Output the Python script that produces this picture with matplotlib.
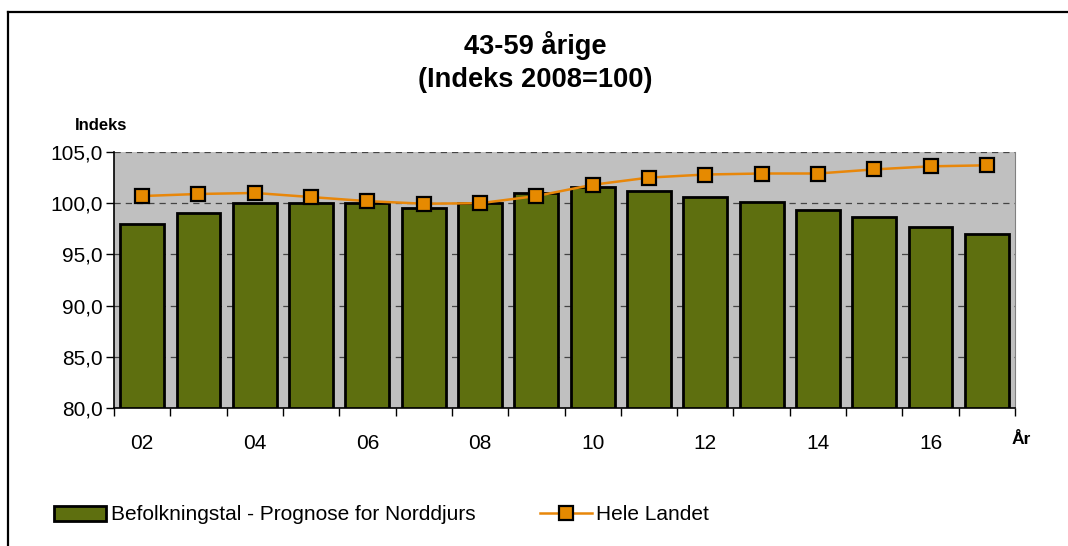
import matplotlib
matplotlib.use("Agg")
import matplotlib.pyplot as plt
from matplotlib.lines import Line2D
from matplotlib.ticker import FixedLocator, FuncFormatter
import numpy as np

plt.rcParams["font.family"] = ["Liberation Sans", "DejaVu Sans"]

years = ["02", "03", "04", "05", "06", "07", "08", "09",
         "10", "11", "12", "13", "14", "15", "16", "17"]
norddjurs = [98.0, 99.0, 100.0, 100.0, 100.0, 99.5, 100.0, 101.0,
             101.6, 101.2, 100.6, 100.1, 99.3, 98.7, 97.7, 97.0]
hele_landet = [100.7, 100.9, 101.0, 100.6, 100.2, 99.95, 100.0, 100.7,
               101.8, 102.5, 102.8, 102.9, 102.9, 103.3, 103.6, 103.7]

W, H = 1068, 546
fig = plt.figure(figsize=(W / 100, H / 100), dpi=100)
ax = fig.add_axes([114 / W, 1 - 408 / H, (1015 - 114) / W, (408 - 152) / H])
ax.set_facecolor("#C0C0C0")

x = np.arange(len(years))
bars = ax.bar(x, [v - 80 for v in norddjurs], bottom=80, width=0.78, color="#5E6F0F",
              edgecolor="black", linewidth=2, zorder=3,
              label="Befolkningstal - Prognose for Norddjurs")
line, = ax.plot(x, hele_landet, color="#E8870A", linewidth=1.8, marker="s",
                markersize=10, markerfacecolor="#E68A00", markeredgecolor="black",
                markeredgewidth=1.6, zorder=4, label="Hele Landet")

ax.set_xlim(-0.5, len(years) - 0.5)
ax.set_ylim(80, 105)
ax.set_yticks(np.arange(80, 105.1, 5))
ax.yaxis.set_major_formatter(FuncFormatter(lambda v, p: f"{v:.1f}".replace(".", ",")))
ax.grid(axis="y", color="#444444", linestyle=(0, (5, 4)), linewidth=0.9, zorder=1)

# category labels every other year, ticks on category boundaries
ax.xaxis.set_major_locator(FixedLocator(np.arange(-0.5, len(years), 1)))
ax.set_xticklabels([])
ax.xaxis.set_minor_locator(FixedLocator(x[::2]))
ax.set_xticklabels(years[::2], minor=True)
ax.tick_params(axis="x", which="minor", length=0, pad=19, labelsize=15)
ax.tick_params(axis="x", which="major", direction="out", length=6, width=1)
ax.tick_params(axis="y", direction="out", length=6, width=1, labelsize=15, pad=2)

for s in ["left", "bottom"]:
    ax.spines[s].set_color("black")
    ax.spines[s].set_linewidth(1.2)
ax.spines["top"].set_visible(False)
ax.spines["right"].set_color("#808080")

ax.text(75 / W, 1 - 125 / H, "Indeks", transform=fig.transFigure,
        fontsize=12, fontweight="bold", va="center", ha="left")
ax.text(1021 / W, 1 - 439 / H, "År", transform=fig.transFigure,
        fontsize=12.5, fontweight="bold", va="center", ha="center")

fig.text(535 / W, 1 - 45 / H, "43-59 årige", fontsize=19.6, fontweight="bold",
         ha="center", va="center")
fig.text(535 / W, 1 - 80 / H, "(Indeks 2008=100)", fontsize=19.6, fontweight="bold",
         ha="center", va="center")

fig.legend([bars, line], [bars.get_label(), line.get_label()],
           loc="center left", bbox_to_anchor=(46 / W, 1 - 515 / H), ncol=2,
           frameon=False, fontsize=15, handlelength=2.5, handletextpad=0.2,
           columnspacing=3.1, borderaxespad=0)

# outer chart frame (only top and left edges are visible)
fig.add_artist(Line2D([8 / W, 8 / W], [0, 1 - 12 / H], transform=fig.transFigure,
                      color="black", linewidth=1.6))
fig.add_artist(Line2D([8 / W, 1], [1 - 12 / H, 1 - 12 / H], transform=fig.transFigure,
                      color="black", linewidth=1.6))

fig.savefig("out.png", dpi=100)
